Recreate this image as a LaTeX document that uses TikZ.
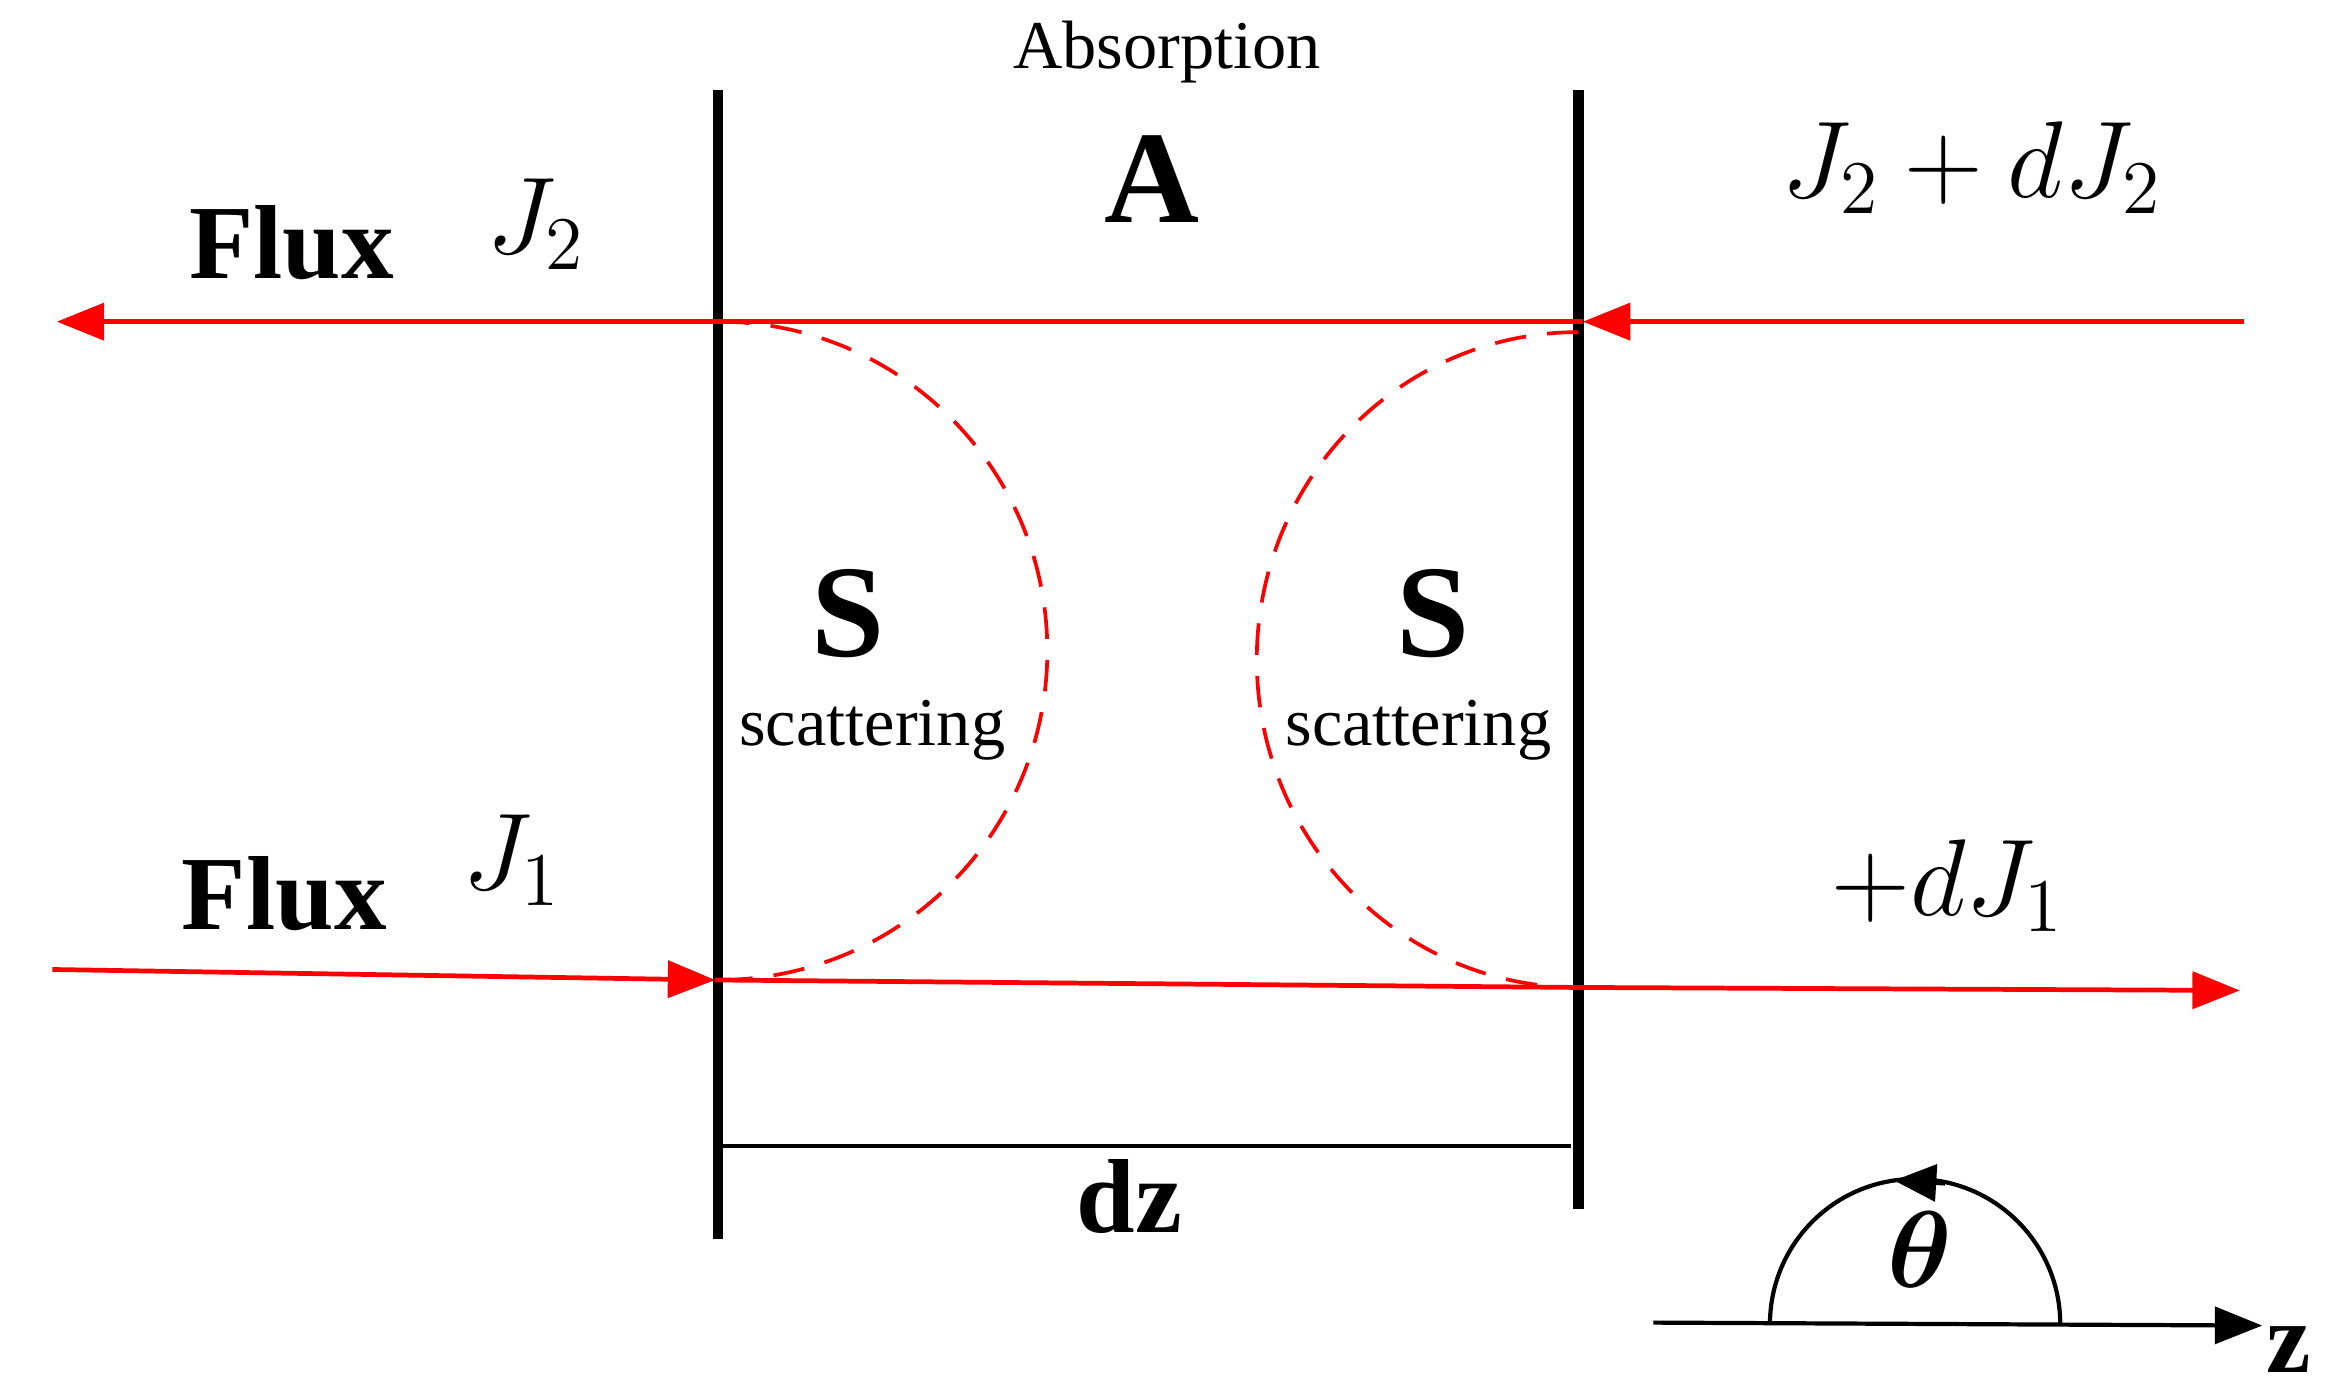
\documentclass[tikz,border=0pt]{standalone}
\usepackage{fontspec}
\setmainfont{Liberation Serif}
\usepackage{bm}
\usetikzlibrary{arrows.meta}

\begin{document}
\begin{tikzpicture}[
    x=0.01cm, y=-0.01cm,
    % walls of the slab
    wall/.style={line width=2pt},
    flux/.style={red, line width=0.9pt},
    fluxarrow/.style={flux, -{Triangle[length=9pt,width=7pt]}},
    scat/.style={red, dash pattern=on 6pt off 4pt, line width=0.7pt},
    bigbold/.style={font=\fontsize{20}{24}\selectfont\bfseries},
    small/.style={font=\fontsize{13}{16}\selectfont},
    mathlabel/.style={font=\fontsize{21}{26}\selectfont},
  ]
  \useasboundingbox (0,0) rectangle (1558,928);

  % walls
  \draw[wall] (480,60) -- (480,828);
  \draw[wall] (1055,60) -- (1055,808);

  % flux lines
  \coordinate (tr) at (1500,215);
  \coordinate (tm) at (1058,215);
  \coordinate (tl) at (38,215);
  \coordinate (bl) at (35,648);
  \coordinate (bm) at (478,655);
  \coordinate (bn) at (1055,660);
  \coordinate (br) at (1497,662);
  \draw[fluxarrow] (tr) -- (tm);
  \draw[fluxarrow] (tm) -- (tl);
  \draw[fluxarrow] (bl) -- (bm);
  \draw[flux] (bm) -- (bn);
  \draw[fluxarrow] (bn) -- (br);

  % scattering arcs
  \draw[scat] (480,215) arc[start angle=90, end angle=-90, x radius=220, y radius=-220];
  \draw[scat] (1055,222) arc[start angle=90, end angle=270, x radius=215, y radius=-219];

  % dz
  \coordinate (dl) at (483,766);
  \coordinate (dr) at (1050,766);
  \draw[line width=0.8pt] (dl) -- (dr);
  \node[bigbold] (dz) at (755,800) {dz};

  % labels
  \node[small] (abs) at (780,35) {Absorption};
  \node[font=\fontsize{25}{30}\selectfont\bfseries] (A) at (770,120) {A};
  \node[font=\fontsize{25}{30}\selectfont\bfseries] (S1) at (567,410) {S};
  \node[small] (sc1) at (583,488) {scattering};
  \node[font=\fontsize{25}{30}\selectfont\bfseries] (S2) at (958,410) {S};
  \node[small] (sc2) at (948,488) {scattering};
  \node[bigbold] (flux2) at (195,162) {Flux};
  \node[mathlabel] (J2) at (358,150) {$J_2$};
  \node[bigbold] (flux1) at (190,597) {Flux};
  \node[mathlabel] (J1) at (342,575) {$J_1$};
  \node[mathlabel] (J2d) at (1318,112) {$J_2+dJ_2$};
  \node[mathlabel] (J1d) at (1302,592) {$+dJ_1$};

  % axis and angle
  \coordinate (zl) at (1105,884);
  \coordinate (zr) at (1512,886);
  \draw[line width=0.8pt, -{Triangle[length=9pt,width=7pt]}] (zl) -- (zr);
  \node[font=\fontsize{19}{22}\selectfont\bfseries] (z) at (1530,902) {z};
  \draw[line width=0.8pt] (1377,885) arc[start angle=0, end angle=-180, radius=97];
  \draw[line width=0.8pt, -{Triangle[length=8pt,width=7pt]}] (1300,791) -- (1266,789);
  \node[font=\fontsize{21}{26}\selectfont] (th) at (1283,835) {$\bm{\theta}$};
\end{tikzpicture}
\end{document}
